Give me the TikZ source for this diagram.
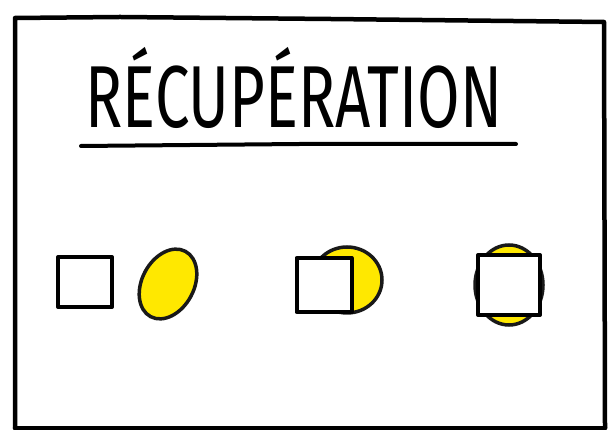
\documentclass[tikz,border=0pt]{standalone}
\usepackage{fontspec}
\setmainfont{Fira Sans}
\newfontfamily\titlefont{Fira Sans}
\usepackage{tikz}
\usetikzlibrary{shapes.geometric}
\definecolor{marker}{RGB}{255,232,0}
\tikzstyle{square} = [
    rectangle,
    draw=black,
    line width=4pt,
    fill=white,
    inner sep=0pt,
    line join=round
]
\tikzstyle{coin} = [
    ellipse,
    draw=black!90,
    line width=3.5pt,
    fill=marker,
    inner sep=0pt
]
\tikzstyle{pen} = [line width=4.5pt, line cap=round, line join=round]

\begin{document}
\begin{tikzpicture}[x=1pt, y=1pt]
    \useasboundingbox (0,0) rectangle (609,430);
    % Rahmen
    \draw [pen] (15,2) -- (15,412) -- (120,413) -- (330,411) -- (604,408) -- (605,2);
    \draw [pen] (15,2) -- (605,2);
    % Titel
    \node (title) [anchor=base, xscale=0.70, inner sep=0pt,
        font=\titlefont\fontsize{88}{90}\selectfont] at (294,302) {RÉCUPÉRATION};
    \draw [line width=4pt, line cap=round] (81,284) -- (300,286) -- (516,286);
    % Formen
    \node (sq1) [square, minimum width=54pt, minimum height=50pt] at (85,148) {};
    \node (ell1) [coin, minimum width=74pt, minimum height=52pt, rotate=62] at (168,146) {};
    \node (ell2) [coin, minimum width=70pt, minimum height=66pt] at (347,150) {};
    \node (sq2) [square, minimum width=55pt, minimum height=54pt] at (324,145) {};
    \node (ell3) [coin, minimum width=68pt, minimum height=80pt] at (509,145) {};
    \node (sq3) [square, minimum width=62pt, minimum height=60pt] at (ell3) {};
\end{tikzpicture}
\end{document}
